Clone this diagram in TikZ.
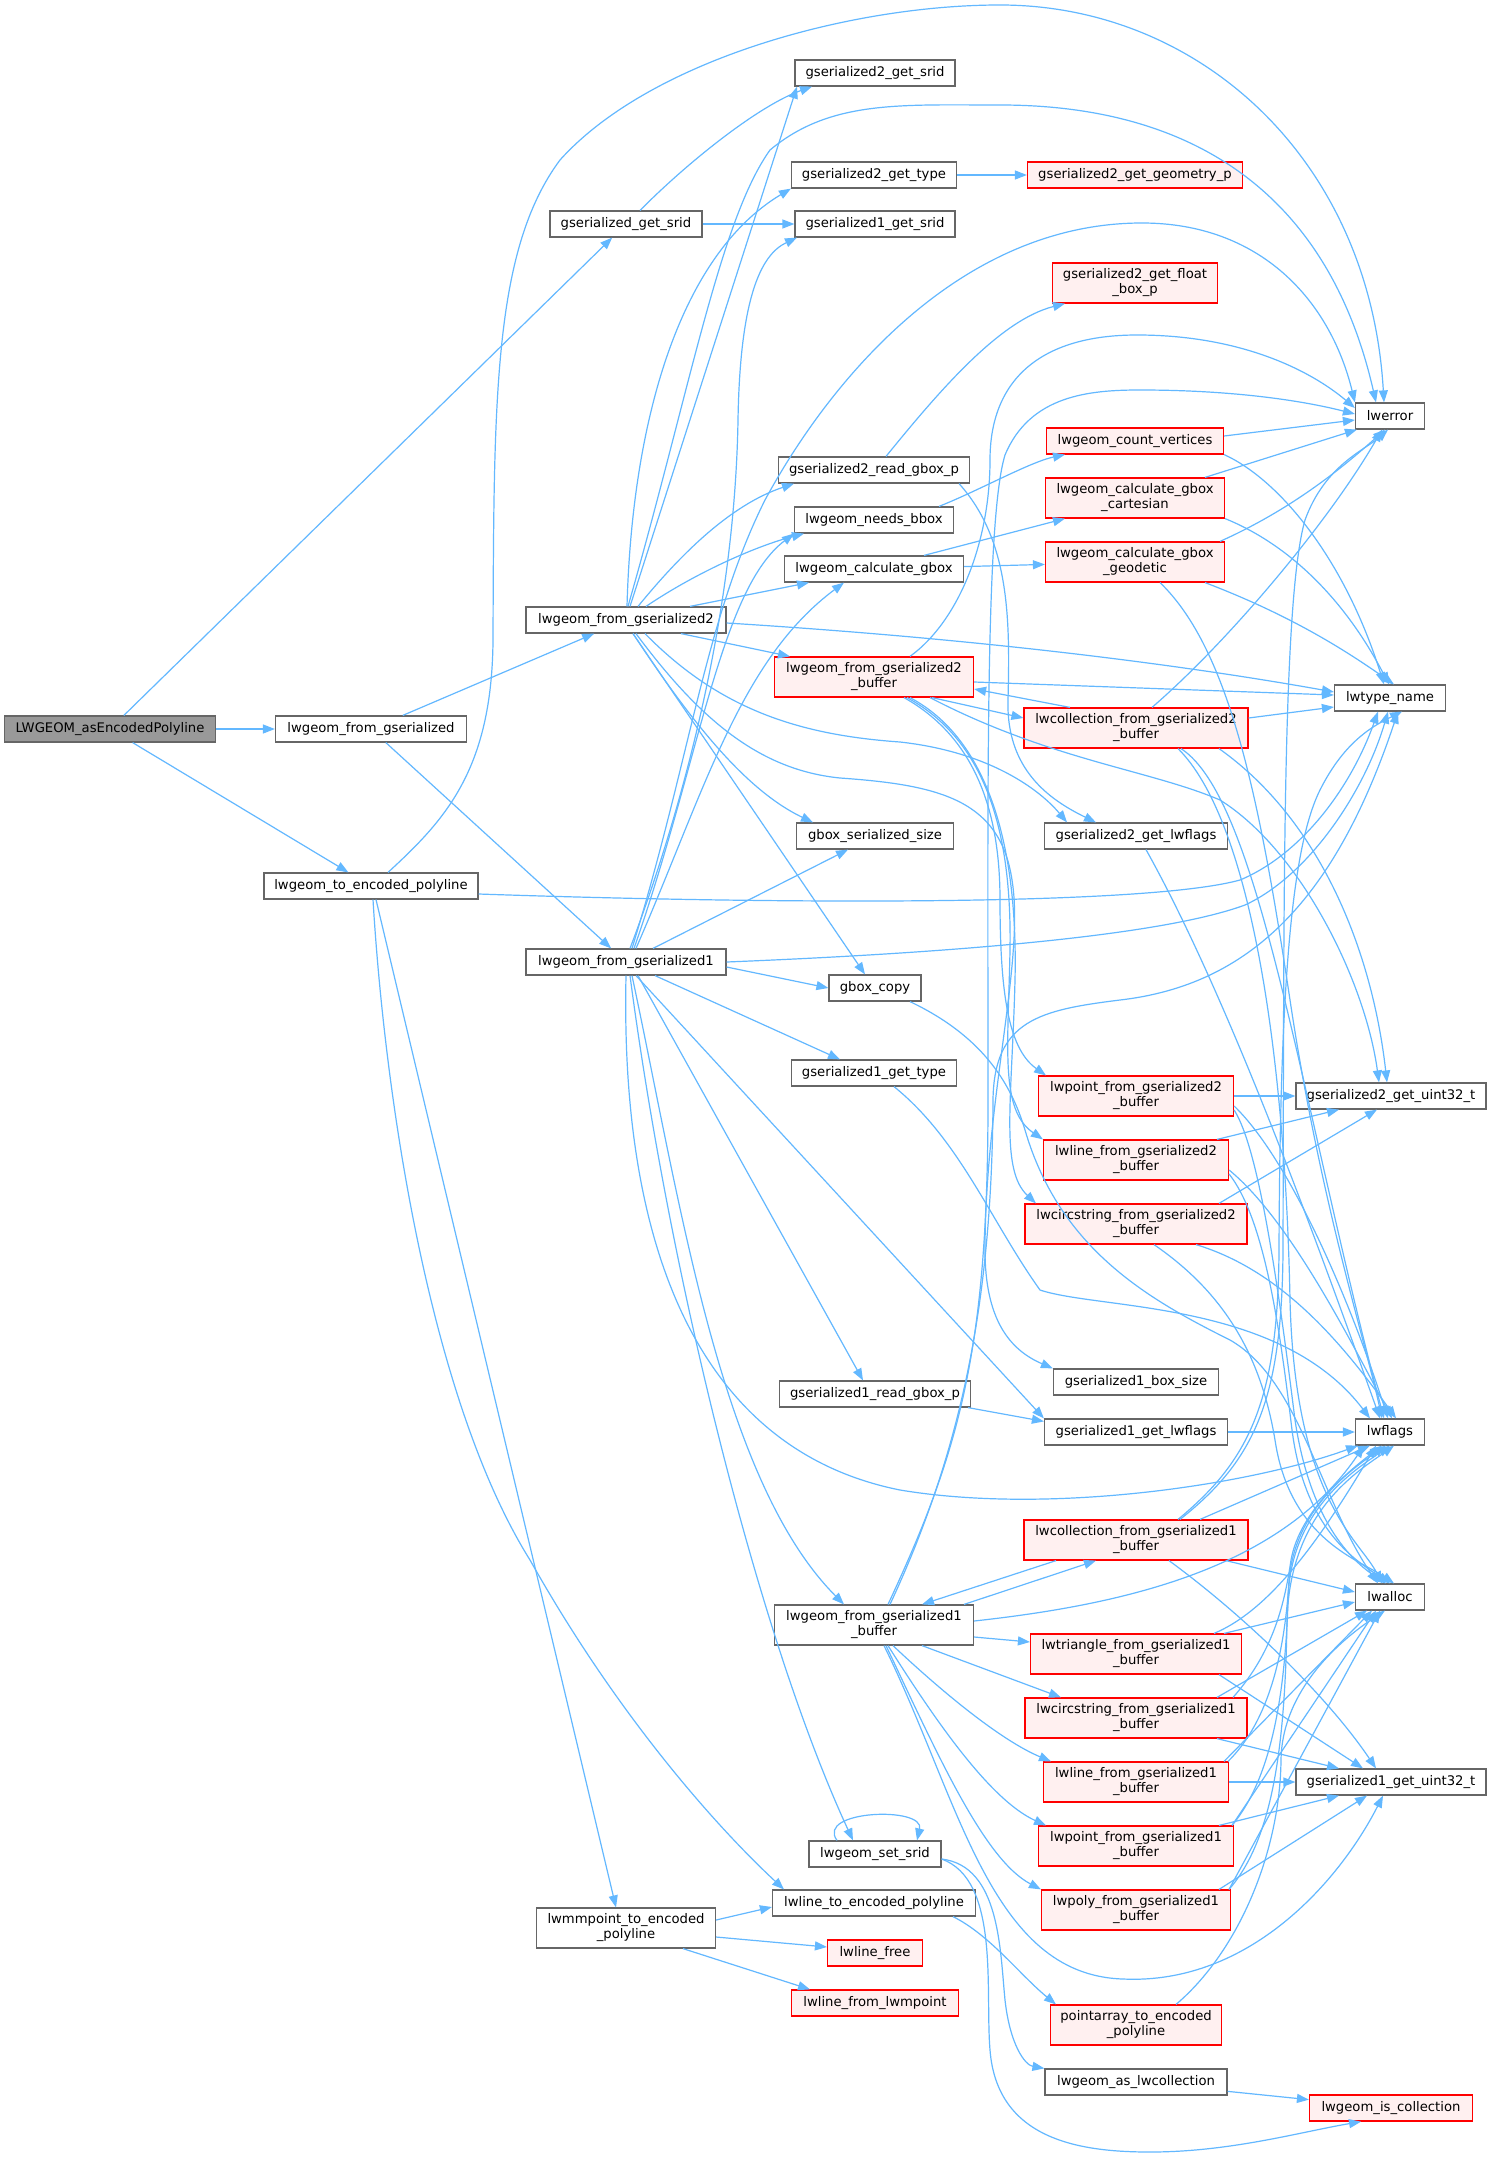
\documentclass[tikz,border=0pt]{standalone}
\usepackage{fontspec}
\setmainfont{DejaVu Sans}
\usetikzlibrary{arrows.meta}
\definecolor{nodegray}{HTML}{666666}
\definecolor{redfill}{HTML}{FFF0F0}
\definecolor{rootgray}{HTML}{999999}
\definecolor{edgec}{HTML}{63B8FF}
\begin{document}
\begin{tikzpicture}[x=1pt,y=1pt,
  fn/.style={draw=nodegray, fill=white, line width=1.2pt, inner sep=0pt, minimum height=26pt,
             font=\fontsize{13.2}{15}\selectfont, align=center, text=black},
  rfn/.style={fn, draw=red, fill=redfill},
  rootfn/.style={fn, fill=rootgray},
  tall/.style={minimum height=40pt},
  cedge/.style={draw=edgec, line width=1.2pt, -{Triangle[length=12pt,width=9pt]}}]
\fill[white] (0,0) rectangle (1491,-2159);
\useasboundingbox (0,0) rectangle (1491,-2159);

% ---------------- nodes ----------------
\node[rootfn, minimum width=211pt] (root) at (110,-729) {LWGEOM\_asEncodedPolyline};
\node[fn, minimum width=191pt] (lfg) at (371,-729) {lwgeom\_from\_gserialized};
\node[fn, minimum width=214pt] (lto) at (371,-886) {lwgeom\_to\_encoded\_polyline};
\node[fn, minimum width=152pt] (ggs) at (626,-224) {gserialized\_get\_srid};
\node[fn, minimum width=160pt] (g2srid) at (875,-73) {gserialized2\_get\_srid};
\node[fn, minimum width=165pt] (g2type) at (874,-175) {gserialized2\_get\_type};
\node[rfn, minimum width=215pt] (g2geom) at (1135,-175) {gserialized2\_get\_geometry\_p};
\node[fn, minimum width=160pt] (g1srid) at (875,-224) {gserialized1\_get\_srid};
\node[fn, minimum width=200pt] (lfg2) at (626,-620) {lwgeom\_from\_gserialized2};
\node[fn, minimum width=200pt] (lfg1) at (626,-962) {lwgeom\_from\_gserialized1};
\node[rfn, tall, minimum width=165pt] (g2float) at (1135,-283) {gserialized2\_get\_float\\\_box\_p};
\node[fn, minimum width=69pt] (lwerror) at (1390,-416) {lwerror};
\node[rfn, minimum width=177pt] (lcv) at (1135,-441) {lwgeom\_count\_vertices};
\node[fn, minimum width=191pt] (g2read) at (874,-470) {gserialized2\_read\_gbox\_p};
\node[rfn, tall, minimum width=179pt] (lcart) at (1135,-498) {lwgeom\_calculate\_gbox\\\_cartesian};
\node[fn, minimum width=159pt] (lneeds) at (874,-520) {lwgeom\_needs\_bbox};
\node[fn, minimum width=179pt] (lcalc) at (874,-569) {lwgeom\_calculate\_gbox};
\node[rfn, tall, minimum width=179pt] (lgeod) at (1135,-562) {lwgeom\_calculate\_gbox\\\_geodetic};
\node[rfn, tall, minimum width=199pt] (lfg2b) at (874,-677) {lwgeom\_from\_gserialized2\\\_buffer};
\node[fn, minimum width=111pt] (lwtype) at (1390,-698) {lwtype\_name};
\node[rfn, tall, minimum width=224pt] (lcol2) at (1136,-728) {lwcollection\_from\_gserialized2\\\_buffer};
\node[fn, minimum width=157pt] (gbss) at (875,-836) {gbox\_serialized\_size};
\node[fn, minimum width=183pt] (g2lwf) at (1136,-836) {gserialized2\_get\_lwflags};
\node[fn, minimum width=92pt] (gbcopy) at (875,-988) {gbox\_copy};
\node[fn, minimum width=165pt] (g1type) at (874,-1073) {gserialized1\_get\_type};
\node[rfn, tall, minimum width=195pt] (lpt2) at (1136,-1096) {lwpoint\_from\_gserialized2\\\_buffer};
\node[fn, minimum width=190pt] (g2u32) at (1391,-1096) {gserialized2\_get\_uint32\_t};
\node[rfn, tall, minimum width=185pt] (lln2) at (1136,-1160) {lwline\_from\_gserialized2\\\_buffer};
\node[rfn, tall, minimum width=222pt] (lcs2) at (1136,-1224) {lwcircstring\_from\_gserialized2\\\_buffer};
\node[fn, minimum width=165pt] (g1box) at (1136,-1382) {gserialized1\_box\_size};
\node[fn, minimum width=191pt] (g1read) at (875,-1394) {gserialized1\_read\_gbox\_p};
\node[fn, minimum width=183pt] (g1lwf) at (1136,-1432) {gserialized1\_get\_lwflags};
\node[fn, minimum width=69pt] (lwflags) at (1390,-1432) {lwflags};
\node[rfn, tall, minimum width=224pt] (lcol1) at (1136,-1540) {lwcollection\_from\_gserialized1\\\_buffer};
\node[fn, minimum width=69pt] (lwalloc) at (1390,-1597) {lwalloc};
\node[fn, tall, minimum width=199pt] (lfg1b) at (874,-1625) {lwgeom\_from\_gserialized1\\\_buffer};
\node[rfn, tall, minimum width=211pt] (ltri1) at (1136,-1654) {lwtriangle\_from\_gserialized1\\\_buffer};
\node[rfn, tall, minimum width=222pt] (lcs1) at (1136,-1718) {lwcircstring\_from\_gserialized1\\\_buffer};
\node[rfn, tall, minimum width=185pt] (lln1) at (1136,-1782) {lwline\_from\_gserialized1\\\_buffer};
\node[fn, minimum width=190pt] (g1u32) at (1391,-1782) {gserialized1\_get\_uint32\_t};
\node[rfn, tall, minimum width=195pt] (lpt1) at (1136,-1846) {lwpoint\_from\_gserialized1\\\_buffer};
\node[fn, minimum width=132pt] (lsetsrid) at (875,-1854) {lwgeom\_set\_srid};
\node[fn, minimum width=203pt] (llenc) at (874,-1903) {lwline\_to\_encoded\_polyline};
\node[rfn, tall, minimum width=189pt] (lpoly1) at (1136,-1910) {lwpoly\_from\_gserialized1\\\_buffer};
\node[fn, tall, minimum width=179pt] (lmmp) at (626,-1928) {lwmmpoint\_to\_encoded\\\_polyline};
\node[rfn, minimum width=95pt] (llfree) at (875,-1953) {lwline\_free};
\node[rfn, minimum width=167pt] (llfromm) at (875,-2003) {lwline\_from\_lwmpoint};
\node[rfn, tall, minimum width=171pt] (parr) at (1136,-2025) {pointarray\_to\_encoded\\\_polyline};
\node[fn, minimum width=182pt] (lascol) at (1136,-2082) {lwgeom\_as\_lwcollection};
\node[rfn, minimum width=163pt] (liscol) at (1391,-2108) {lwgeom\_is\_collection};

% ---------------- edges ----------------
% root
\draw[cedge] (root) -- (ggs);
\draw[cedge] (root) -- (lfg);
\draw[cedge] (root) -- (lto);
% gserialized_get_srid
\draw[cedge] ([xshift=14pt]ggs.north) .. controls (690,-160) and (760,-105) .. ([xshift=-63pt]g2srid.south);
\draw[cedge] (ggs) -- (g1srid);
% lwgeom_from_gserialized
\draw[cedge] (lfg) -- (lfg2);
\draw[cedge] (lfg) -- (lfg1);
% lwgeom_to_encoded_polyline
\draw[cedge] ([xshift=17pt]lto.north) .. controls (445,-820) and (492,-770) .. (493,-640)
   .. controls (494,-400) and (493,-250) .. (560,-160)
   .. controls (650,-60) and (850,-5) .. (1000,-5)
   .. controls (1200,-5) and (1370,-160) .. ([xshift=-6pt]lwerror.north);
\draw[cedge] ([yshift=-8pt]lto.east) .. controls (800,-905) and (1150,-905) .. (1240,-880)
   .. controls (1300,-855) and (1350,-790) .. ([xshift=-12pt]lwtype.south);
\draw[cedge] ([xshift=5pt]lto.south) -- ([xshift=-10pt]lmmp.north);
\draw[cedge] ([xshift=2pt]lto.south) .. controls (385,-1100) and (430,-1400) .. (530,-1560)
   .. controls (620,-1720) and (720,-1830) .. ([xshift=-90pt]llenc.north);
% lwmmpoint_to_encoded_polyline
\draw[cedge] ([yshift=8pt]lmmp.east) -- ([yshift=-4pt]llenc.west);
\draw[cedge] ([yshift=-9pt]lmmp.east) -- ([yshift=6pt]llfree.west);
\draw[cedge] ([xshift=57pt]lmmp.south) -- ([xshift=-65pt]llfromm.north);
% lwline_to_encoded_polyline
\draw[cedge] ([xshift=79pt]llenc.south) .. controls (990,-1935) and (1020,-1975) .. ([xshift=-80pt]parr.north);
% pointarray_to_encoded_polyline
\draw[cedge] ([xshift=40pt]parr.north) .. controls (1240,-1950) and (1280,-1850) .. (1281,-1760)
   .. controls (1282,-1690) and (1340,-1640) .. ([xshift=-5pt]lwalloc.south);
% lwgeom_set_srid
\draw[cedge] ([xshift=-38pt]lsetsrid.north) .. controls (815,-1810) and (925,-1806) .. ([xshift=42pt]lsetsrid.north);
\draw[cedge] ([yshift=-5pt]lsetsrid.east) .. controls (1000,-1866) and (1000,-1950) .. (1005,-2000)
   .. controls (1010,-2045) and (1025,-2065) .. (lascol.north west);
\draw[cedge] ([yshift=-5pt]lsetsrid.east) .. controls (1000,-1880) and (985,-1990) .. (990,-2050)
   .. controls (997,-2140) and (1080,-2152) .. (1150,-2152)
   .. controls (1230,-2152) and (1300,-2132) .. ([xshift=-30pt]liscol.south);
\draw[cedge] (lascol) -- (liscol);
% small ones
\draw[cedge] (g2type) -- (g2geom);
\draw[cedge] ([xshift=12pt]g2read.north) .. controls (940,-390) and (1000,-320) .. ([xshift=-70pt]g2float.south);
\draw[cedge] ([xshift=85pt]g2read.south) .. controls (1010,-540) and (1010,-620) .. (1008,-700)
   .. controls (1006,-770) and (1050,-800) .. ([xshift=-40pt]g2lwf.north);
\draw[cedge] ([xshift=65pt]lneeds.north) .. controls (980,-490) and (1030,-462) .. ([xshift=-70pt]lcv.south);
\draw[cedge] ([xshift=50pt]lcalc.north) -- ([xshift=-70pt]lcart.south);
\draw[cedge] (lcalc) -- (lgeod);
\draw[cedge] ([yshift=5pt]lcv.east) -- ([yshift=-4pt]lwerror.west);
\draw[cedge] (lcv.south east) .. controls (1280,-480) and (1345,-560) .. ([xshift=-6pt]lwtype.north);
\draw[cedge] ([xshift=70pt]lcart.north) -- ([xshift=2pt]lwerror.south west);
\draw[cedge] (lcart.south east) .. controls (1290,-545) and (1345,-600) .. ([xshift=-1pt]lwtype.north);
\draw[cedge] ([xshift=85pt]lgeod.north) .. controls (1290,-510) and (1340,-470) .. ([xshift=-5pt]lwerror.south);
\draw[cedge] ([xshift=70pt]lgeod.south) .. controls (1290,-615) and (1345,-650) .. ([xshift=4pt]lwtype.north);
\draw[cedge] ([xshift=25pt]lgeod.south) .. controls (1230,-650) and (1260,-800) .. (1290,-1000)
   .. controls (1320,-1200) and (1365,-1340) .. ([xshift=-8pt]lwflags.north);
% lwgeom_from_gserialized2
\draw[cedge] ([xshift=4pt]lfg2.north) -- ([xshift=-78pt]g2srid.south);
\draw[cedge] ([xshift=2pt]lfg2.north) .. controls (690,-390) and (720,-220) .. (770,-150)
   .. controls (830,-100) and (900,-105) .. (1000,-105)
   .. controls (1200,-105) and (1330,-200) .. ([xshift=-14pt]lwerror.north);
\draw[cedge] ([xshift=1pt]lfg2.north) .. controls (632,-420) and (680,-255) .. (g2type.south west);
\draw[cedge] ([xshift=12pt]lfg2.north) .. controls (680,-555) and (730,-505) .. ([xshift=-80pt]g2read.south);
\draw[cedge] ([xshift=20pt]lfg2.north) .. controls (700,-570) and (760,-545) .. ([xshift=-70pt]lneeds.south);
\draw[cedge] ([xshift=64pt]lfg2.north) -- ([xshift=-65pt]lcalc.south);
\draw[cedge] ([xshift=55pt]lfg2.south) -- ([xshift=-84pt]lfg2b.north);
\draw[cedge] ([yshift=-3pt]lfg2.east) .. controls (1000,-640) and (1200,-668) .. ([yshift=6pt]lwtype.west);
\draw[cedge] ([xshift=7pt]lfg2.south) .. controls (690,-720) and (745,-790) .. ([xshift=-62pt]gbss.north);
\draw[cedge] ([xshift=7pt]lfg2.south) -- ([xshift=-10pt]gbcopy.north);
\draw[cedge] ([xshift=19pt]lfg2.south) .. controls (720,-710) and (800,-735) .. (900,-742)
   .. controls (990,-752) and (1040,-790) .. ([xshift=-69pt]g2lwf.north);
\draw[cedge] ([xshift=10pt]lfg2.south) .. controls (700,-720) and (760,-770) .. (840,-778)
   .. controls (940,-785) and (1000,-800) .. (1012,-880)
   .. controls (1025,-960) and (985,-1100) .. (985,-1250)
   .. controls (985,-1320) and (1010,-1350) .. (g1box.north west);
% lwgeom_from_gserialized1
\draw[cedge] ([xshift=4pt]lfg1.north) .. controls (690,-790) and (735,-600) .. (738,-420)
   .. controls (740,-300) and (760,-255) .. ([xshift=-78pt]g1srid.south);
\draw[cedge] ([xshift=6pt]lfg1.north) .. controls (690,-760) and (705,-620) .. (765,-500)
   .. controls (830,-380) and (960,-223) .. (1142,-223)
   .. controls (1260,-223) and (1330,-300) .. (lwerror.north west);
\draw[cedge] ([xshift=8pt]lfg1.north) .. controls (700,-760) and (720,-590) .. (lneeds.south west);
\draw[cedge] ([xshift=10pt]lfg1.north) .. controls (705,-790) and (740,-660) .. ([xshift=-30pt]lcalc.south);
\draw[cedge] ([xshift=27pt]lfg1.north) -- ([xshift=-27pt]gbss.south);
\draw[cedge] (lfg1.east) .. controls (900,-955) and (1150,-940) .. (1245,-905)
   .. controls (1310,-875) and (1365,-790) .. ([xshift=-2pt]lwtype.south);
\draw[cedge] ([yshift=-5pt]lfg1.east) -- (gbcopy.west);
\draw[cedge] ([xshift=29pt]lfg1.south) -- ([xshift=-34pt]g1type.north);
\draw[cedge] ([xshift=12pt]lfg1.south) -- ([xshift=-12pt]g1read.north);
\draw[cedge] ([xshift=10pt]lfg1.south) -- (g1lwf.north west);
\draw[cedge] ([xshift=6pt]lfg1.south) .. controls (680,-1200) and (720,-1480) .. ([xshift=-30pt]lfg1b.north);
\draw[cedge] ([xshift=4pt]lfg1.south) .. controls (670,-1280) and (760,-1640) .. ([xshift=-22pt]lsetsrid.north);
\draw[cedge] (lfg1.south) .. controls (620,-1250) and (700,-1450) .. (900,-1490)
   .. controls (1050,-1515) and (1250,-1485) .. ([xshift=-32pt]lwflags.south);
% lwgeom_from_gserialized1_buffer
\draw[cedge] ([xshift=14pt]lfg1b.north) .. controls (960,-1450) and (988,-1350) .. (988,-1100)
   .. controls (988,-800) and (985,-520) .. (1005,-455)
   .. controls (1030,-395) and (1090,-390) .. (1140,-390)
   .. controls (1230,-390) and (1300,-400) .. ([yshift=2pt]lwerror.west);
\draw[cedge] ([xshift=16pt]lfg1b.north) .. controls (962,-1450) and (992,-1300) .. (993,-1100)
   .. controls (994,-1020) and (1040,-1010) .. (1120,-1000)
   .. controls (1250,-985) and (1335,-900) .. ([xshift=8pt]lwtype.south);
\draw[cedge] ([yshift=4pt]lfg1b.east) .. controls (1120,-1605) and (1280,-1570) .. ([xshift=-26pt]lwflags.south);
\draw[cedge] ([xshift=90pt]lfg1b.north) -- ([xshift=-40pt]lcol1.south);
\draw[cedge] ([xshift=-80pt]lcol1.south) -- ([xshift=48pt]lfg1b.north);
\draw[cedge] ([yshift=-12pt]lfg1b.east) -- ([yshift=12pt]ltri1.west);
\draw[cedge] ([xshift=48pt]lfg1b.south) -- ([xshift=-75pt]lcs1.north);
\draw[cedge] ([xshift=19pt]lfg1b.south) .. controls (940,-1690) and (1000,-1740) .. ([xshift=-85pt]lln1.north);
\draw[cedge] ([xshift=14pt]lfg1b.south) .. controls (935,-1720) and (990,-1800) .. ([xshift=-90pt]lpt1.north);
\draw[cedge] ([xshift=12pt]lfg1b.south) .. controls (940,-1760) and (985,-1860) .. (lpoly1.north west);
\draw[cedge] ([xshift=10pt]lfg1b.south) .. controls (960,-1800) and (990,-1975) .. (1123,-1979)
   .. controls (1250,-1985) and (1340,-1880) .. ([xshift=-8pt]g1u32.south);
% lwcollection_from_gserialized1_buffer
\draw[cedge] ([xshift=64pt]lcol1.north) -- ([xshift=-20pt]lwflags.south);
\draw[cedge] ([xshift=44pt]lcol1.north) .. controls (1255,-1460) and (1282,-1400) .. (1283,-1250)
   .. controls (1284,-900) and (1282,-600) .. (1305,-520)
   .. controls (1325,-465) and (1365,-450) .. ([xshift=-2pt]lwerror.south);
\draw[cedge] ([xshift=42pt]lcol1.north) .. controls (1250,-1460) and (1278,-1400) .. (1279,-1250)
   .. controls (1280,-1000) and (1290,-850) .. (1320,-790)
   .. controls (1345,-740) and (1375,-725) .. ([xshift=12pt]lwtype.south);
\draw[cedge] ([xshift=90pt]lcol1.south) -- ([yshift=5pt]lwalloc.west);
\draw[cedge] ([xshift=33pt]lcol1.south) .. controls (1250,-1620) and (1330,-1700) .. ([xshift=-15pt]g1u32.north);
% lwtriangle
\draw[cedge] ([xshift=88pt]ltri1.north) -- ([yshift=-5pt]lwalloc.west);
\draw[cedge] ([xshift=78pt]ltri1.north) .. controls (1270,-1610) and (1320,-1540) .. ([xshift=-14pt]lwflags.south);
\draw[cedge] ([xshift=83pt]ltri1.south) -- ([xshift=-28pt]g1u32.north);
% lwcircstring1
\draw[cedge] ([xshift=81pt]lcs1.north) -- ([xshift=-23pt]lwalloc.south);
\draw[cedge] ([xshift=97pt]lcs1.north) .. controls (1275,-1650) and (1285,-1600) .. (1291,-1560)
   .. controls (1300,-1510) and (1350,-1470) .. ([xshift=-8pt]lwflags.south);
\draw[cedge] ([xshift=81pt]lcs1.south) -- ([xshift=-52pt]g1u32.north);
% lwline1
\draw[cedge] ([xshift=88pt]lln1.north) -- ([xshift=-18pt]lwalloc.south);
\draw[cedge] ([xshift=92pt]lln1.north) .. controls (1270,-1720) and (1285,-1650) .. (1289,-1580)
   .. controls (1295,-1510) and (1350,-1470) .. ([xshift=-4pt]lwflags.south);
\draw[cedge] (lln1) -- (g1u32);
% lwpoint1
\draw[cedge] ([xshift=96pt]lpt1.north) -- ([xshift=-14pt]lwalloc.south);
\draw[cedge] ([xshift=96pt]lpt1.north) .. controls (1270,-1780) and (1285,-1700) .. (1288,-1600)
   .. controls (1290,-1510) and (1355,-1470) .. (lwflags.south);
\draw[cedge] ([xshift=83pt]lpt1.north) -- ([xshift=-52pt]g1u32.south);
% lwpoly1
\draw[cedge] ([xshift=93pt]lpoly1.north) -- ([xshift=-10pt]lwalloc.south);
\draw[cedge] ([xshift=93pt]lpoly1.north) .. controls (1272,-1840) and (1285,-1750) .. (1287,-1620)
   .. controls (1290,-1510) and (1360,-1470) .. ([xshift=4pt]lwflags.south);
\draw[cedge] ([xshift=83pt]lpoly1.north) -- ([xshift=-24pt]g1u32.south);
% lwgeom_from_gserialized2_buffer
\draw[cedge] ([xshift=36pt]lfg2b.north) .. controls (960,-620) and (990,-540) .. (990,-460)
   .. controls (990,-380) and (1040,-335) .. (1137,-335)
   .. controls (1240,-335) and (1310,-370) .. ([yshift=8pt]lwerror.west);
\draw[cedge] ([yshift=-5pt]lfg2b.east) -- ([yshift=3pt]lwtype.west);
\draw[cedge] ([xshift=58pt]lfg2b.south) -- ([yshift=10pt]lcol2.west);
\draw[cedge] ([xshift=30pt]lfg2b.south) .. controls (980,-740) and (1000,-820) .. (1000,-900)
   .. controls (1000,-1000) and (1010,-1050) .. ([xshift=-90pt]lpt2.north);
\draw[cedge] ([xshift=33pt]lfg2b.south) .. controls (985,-740) and (1012,-830) .. (1010,-950)
   .. controls (1008,-1050) and (1000,-1110) .. (lln2.north west);
\draw[cedge] ([xshift=36pt]lfg2b.south) .. controls (990,-740) and (1018,-850) .. (1015,-980)
   .. controls (1012,-1100) and (1000,-1170) .. ([xshift=-100pt]lcs2.north);
\draw[cedge] ([xshift=56pt]lfg2b.south) .. controls (1050,-760) and (1150,-770) .. (1220,-800)
   .. controls (1300,-850) and (1365,-980) .. ([xshift=-12pt]g2u32.north);
% lwcollection_from_gserialized2_buffer
\draw[cedge] ([xshift=-66pt]lcol2.north) -- ([yshift=-12pt]lfg2b.east);
\draw[cedge] ([yshift=10pt]lcol2.east) -- ([yshift=-9pt]lwtype.west);
\draw[cedge] ([xshift=16pt]lcol2.north) .. controls (1230,-640) and (1330,-520) .. ([xshift=-8pt]lwerror.south);
\draw[cedge] ([xshift=83pt]lcol2.south) .. controls (1320,-820) and (1372,-950) .. ([xshift=-4pt]g2u32.north);
\draw[cedge] ([xshift=45pt]lcol2.south) .. controls (1260,-800) and (1300,-1100) .. ([xshift=-6pt]lwflags.north);
\draw[cedge] ([xshift=42pt]lcol2.south) .. controls (1250,-820) and (1285,-1050) .. (1290,-1300)
   .. controls (1295,-1500) and (1360,-1540) .. ([xshift=-8pt]lwalloc.north);
% lwpoint2 / lwline2 / lwcircstring2
\draw[cedge] (lpt2) -- (g2u32);
\draw[cedge] ([yshift=-10pt]lpt2.east) .. controls (1290,-1160) and (1350,-1300) .. ([xshift=-2pt]lwflags.north);
\draw[cedge] ([yshift=-14pt]lpt2.east) .. controls (1260,-1150) and (1280,-1300) .. (1295,-1420)
   .. controls (1310,-1520) and (1350,-1560) .. ([xshift=-4pt]lwalloc.north);
\draw[cedge] ([xshift=81pt]lln2.north) -- ([xshift=-52pt]g2u32.south);
\draw[cedge] ([yshift=-10pt]lln2.east) .. controls (1290,-1220) and (1350,-1340) .. ([xshift=2pt]lwflags.north);
\draw[cedge] ([yshift=-14pt]lln2.east) .. controls (1265,-1220) and (1280,-1330) .. (1292,-1430)
   .. controls (1305,-1530) and (1355,-1560) .. (lwalloc.north);
\draw[cedge] ([xshift=83pt]lcs2.north) -- ([xshift=-14pt]g2u32.south);
\draw[cedge] ([xshift=60pt]lcs2.south) .. controls (1280,-1270) and (1340,-1340) .. ([xshift=6pt]lwflags.north);
\draw[cedge] ([xshift=18pt]lcs2.south) .. controls (1220,-1290) and (1260,-1350) .. (1275,-1440)
   .. controls (1290,-1540) and (1360,-1560) .. ([xshift=4pt]lwalloc.north);
% lwflags callers
\draw[cedge] ([xshift=10pt]g2lwf.south) .. controls (1230,-1000) and (1320,-1250) .. ([xshift=-10pt]lwflags.north);
\draw[cedge] (g1lwf) -- (lwflags);
\draw[cedge] ([xshift=93pt]g1read.south) -- ([yshift=-3pt]g1lwf.north west);
\draw[cedge] ([xshift=20pt]g1type.south) .. controls (960,-1140) and (990,-1220) .. (1040,-1290)
   .. controls (1100,-1310) and (1280,-1300) .. ([xshift=-20pt]lwflags.north);
% gbox_copy
\draw[cedge] ([xshift=35pt]gbcopy.south) .. controls (980,-1035) and (1010,-1080) .. (1025,-1130)
   .. controls (1060,-1250) and (1150,-1300) .. (1230,-1340)
   .. controls (1300,-1380) and (1320,-1500) .. ([xshift=-12pt]lwalloc.north);
\end{tikzpicture}
\end{document}
